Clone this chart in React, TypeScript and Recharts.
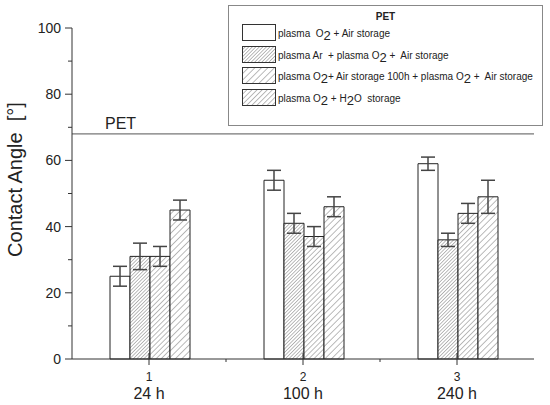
import React from "react";
import {
  BarChart,
  Bar,
  XAxis,
  YAxis,
  ErrorBar,
  ReferenceLine,
  Legend,
} from "recharts";

// values
const categories = ["1", "2", "3"];
const timeLabels = ["24 h", "100 h", "240 h"];
const airStorage = [25, 54, 59];
const airStorageErr = [3, 3, 2];
const arThenO2 = [31, 41, 36];
const arThenO2Err = [4, 3, 2];
const o2Air100h = [31, 37, 44];
const o2Air100hErr = [3, 3, 3];
const o2Water = [45, 46, 49];
const o2WaterErr = [3, 3, 5];
const petUntreated = 68;
const yTicks = [0, 10, 20, 30, 40, 50, 60, 70, 80, 90, 100];

const seriesNames = [
  "plasma  O_2 + Air storage",
  "plasma Ar  + plasma O_2 +  Air storage",
  "plasma O_2+ Air storage 100h + plasma O_2 +  Air storage",
  "plasma O_2 + H_2O  storage",
];

const data = categories.map((c, i) => ({
  cat: c,
  time: timeLabels[i],
  air: airStorage[i],
  airErr: airStorageErr[i],
  ar: arThenO2[i],
  arErr: arThenO2Err[i],
  h100: o2Air100h[i],
  h100Err: o2Air100hErr[i],
  water: o2Water[i],
  waterErr: o2WaterErr[i],
}));

const FONT = "'Liberation Sans', Arial, sans-serif";
const INK = "#222";

// "O_2" -> O with a (big, lowered) subscript 2, the way the original legend looks
const withSubs = (s: string) =>
  s.split("_2").map((part, i) => (
    <React.Fragment key={i}>
      {i > 0 && (
        <span style={{ fontSize: 13, position: "relative", top: 3 }}>2</span>
      )}
      {part}
    </React.Fragment>
  ));

const XTick = (props: any) => {
  const { x, y, payload, index, width, visibleTicksCount } = props;
  // minor tick halfway between categories
  const half =
    width && visibleTicksCount ? width / visibleTicksCount / 2 : 0;
  return (
    <g>
      <line x1={x} x2={x} y1={y - 6} y2={y + 6} stroke="#333" />
      {half > 0 && index < categories.length - 1 && (
        <line x1={x + half} x2={x + half} y1={y} y2={y + 3} stroke="#333" />
      )}
      <text x={x} y={y + 22} textAnchor="middle" fontSize={12} fill={INK} fontFamily={FONT}>
        {payload.value}
      </text>
      <text x={x} y={y + 40} textAnchor="middle" fontSize={16} fill={INK} fontFamily={FONT}>
        {timeLabels[index]}
      </text>
    </g>
  );
};

const YTick = (props: any) => {
  const { x, y, payload } = props;
  const major = payload.value % 20 === 0;
  return (
    <g>
      <line x1={x - (major ? 7 : 4)} x2={x} y1={y} y2={y} stroke="#333" />
      {major && (
        <text x={x - 11} y={y} dy={5} textAnchor="end" fontSize={14} fill={INK} fontFamily={FONT}>
          {payload.value}
        </text>
      )}
    </g>
  );
};

const LegendBox = (props: any) => {
  const { payload } = props;
  return (
    <div
      style={{
        width: 313,
        height: 119,
        border: "1px solid #888",
        background: "#fff",
        fontFamily: FONT,
        fontSize: 10,
        color: INK,
        boxSizing: "content-box",
        position: "relative",
      }}
    >
      <div style={{ textAlign: "center", fontWeight: "bold", marginTop: 5 }}>PET</div>
      {(payload || []).map((item: any, i: number) => (
        <div
          key={i}
          style={{
            position: "absolute",
            left: 13,
            top: 18 + i * 21.7,
            display: "flex",
            alignItems: "center",
            whiteSpace: "pre",
          }}
        >
          <svg width={34} height={17} style={{ display: "block" }}>
            <rect x={0.5} y={0.5} width={33} height={16} fill={item.color} stroke="#333" />
          </svg>
          <span style={{ marginLeft: 2 }}>{withSubs(seriesNames[i])}</span>
        </div>
      ))}
    </div>
  );
};

const App: React.FC = () => {
  return (
    <div style={{ position: "absolute", left: 0, top: 0, background: "#fff" }}>
      <svg width={0} height={0} style={{ position: "absolute" }}>
        <defs>
          <pattern id="hatchDense" patternUnits="userSpaceOnUse" width={2.5} height={2.5} patternTransform="rotate(45)">
            <rect width={2.5} height={2.5} fill="#fff" />
            <line x1={0} y1={0} x2={0} y2={2.5} stroke="#777" strokeWidth={1} />
          </pattern>
          <pattern id="hatchMid" patternUnits="userSpaceOnUse" width={3.6} height={3.6} patternTransform="rotate(45)">
            <rect width={3.6} height={3.6} fill="#fff" />
            <line x1={0} y1={0} x2={0} y2={3.6} stroke="#777" strokeWidth={1} />
          </pattern>
          <pattern id="hatchSparse" patternUnits="userSpaceOnUse" width={4.6} height={4.6} patternTransform="rotate(45)">
            <rect width={4.6} height={4.6} fill="#fff" />
            <line x1={0} y1={0} x2={0} y2={4.6} stroke="#777" strokeWidth={1} />
          </pattern>
        </defs>
      </svg>
      <BarChart
        width={550}
        height={405}
        data={data}
        margin={{ top: 28, right: 16, left: 0, bottom: 0 }}
        barCategoryGap={38}
        barGap={0}
      >
        <XAxis
          dataKey="cat"
          height={46}
          interval={0}
          axisLine={{ stroke: "#333" }}
          tickLine={false}
          tickSize={0}
          tickMargin={0}
          tick={<XTick />}
        />
        <YAxis
          width={72}
          domain={[0, 100]}
          ticks={yTicks}
          interval={0}
          axisLine={{ stroke: "#333" }}
          tickLine={false}
          tickSize={0}
          tickMargin={0}
          tick={<YTick />}
          label={{
            content: (p: any) => {
              const vb = p.viewBox || { x: 0, y: 28, width: 72, height: 331 };
              const cx = vb.x + 15;
              const cy = vb.y + vb.height / 2 - 14;
              return (
                <text
                  x={cx}
                  y={cy}
                  transform={`rotate(-90, ${cx}, ${cy})`}
                  textAnchor="middle"
                  dominantBaseline="central"
                  fontSize={20}
                  fill={INK}
                  fontFamily={FONT}
                  style={{ whiteSpace: "pre" }}
                >
                  {"Contact Angle  [°]"}
                </text>
              );
            },
          }}
        />
        <ReferenceLine
          y={petUntreated}
          stroke="#555"
          label={{
            content: (p: any) => {
              const vb = p.viewBox || { x: 72, y: 134 };
              return (
                <text x={vb.x + 33} y={vb.y - 5} fontSize={16} fill={INK} fontFamily={FONT}>
                  PET
                </text>
              );
            },
          }}
        />
        <Legend
          layout="vertical"
          align="center"
          verticalAlign="middle"
          content={<LegendBox />}
          wrapperStyle={{ left: 228, top: 5, width: 315, height: 121 }}
        />
        <Bar dataKey="air" name={seriesNames[0]} fill="#fff" stroke="#222" isAnimationActive={false}>
          <ErrorBar dataKey="airErr" width={7} stroke="#444" />
        </Bar>
        <Bar dataKey="ar" name={seriesNames[1]} fill="url(#hatchDense)" stroke="#222" isAnimationActive={false}>
          <ErrorBar dataKey="arErr" width={7} stroke="#444" />
        </Bar>
        <Bar dataKey="h100" name={seriesNames[2]} fill="url(#hatchMid)" stroke="#222" isAnimationActive={false}>
          <ErrorBar dataKey="h100Err" width={7} stroke="#444" />
        </Bar>
        <Bar dataKey="water" name={seriesNames[3]} fill="url(#hatchSparse)" stroke="#222" isAnimationActive={false}>
          <ErrorBar dataKey="waterErr" width={7} stroke="#444" />
        </Bar>
      </BarChart>
    </div>
  );
};

export default App;
